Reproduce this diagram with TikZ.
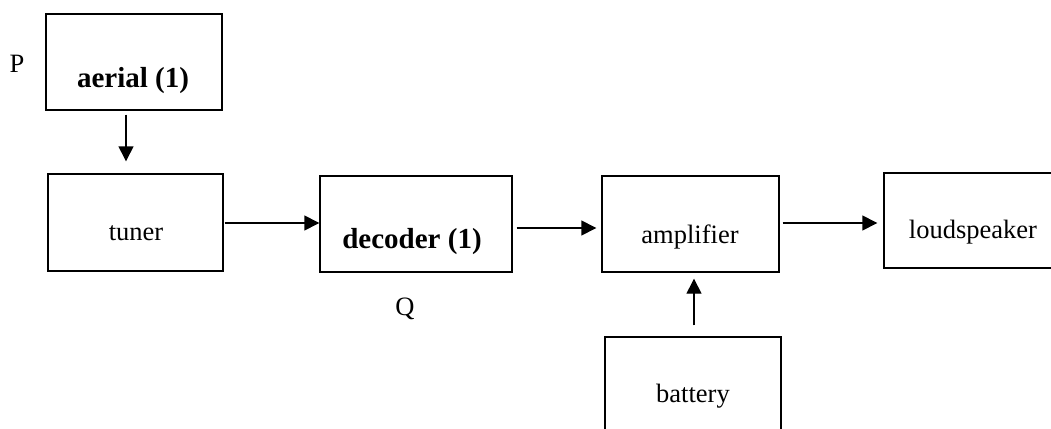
\documentclass[tikz,border=0pt]{standalone}
\usepackage{fontspec}
\setmainfont{Liberation Serif}
\usetikzlibrary{arrows.meta}
\tikzset{
  blk/.style={draw, line width=1.4pt, rectangle, inner sep=0pt},
  txt/.style={inner sep=0pt, anchor=base, font=\fontsize{26.5}{30}\selectfont},
  btxt/.style={inner sep=0pt, anchor=base, font=\fontsize{29}{33}\selectfont\bfseries},
  arr/.style={line width=1.4pt, -{Triangle[length=15pt,width=15pt]}}
}
\begin{document}
\begin{tikzpicture}[x=1pt,y=-1pt]
\useasboundingbox (0,0) rectangle (1051,428);
% boxes
\node[blk, minimum width=176pt, minimum height=96pt] (aerial) at (134,62) {};
\node[blk, minimum width=175pt, minimum height=97pt] (tuner) at (135.5,222.5) {};
\node[blk, minimum width=192pt, minimum height=96pt] (decoder) at (416,224) {};
\node[blk, minimum width=177pt, minimum height=96pt] (amp) at (690.5,224) {};
\node[blk, minimum width=176pt, minimum height=95pt] (loud) at (972,220.5) {};
\node[blk, minimum width=176pt, minimum height=96pt] (battery) at (693,385) {};
% texts
\node[txt] (p) at (17,72) {P};
\node[btxt] (aerialt) at (133,87) {aerial (1)};
\node[txt] (tunert) at (136,240) {tuner};
\node[btxt] (decodert) at (412,248) {decoder (1)};
\node[txt] (q) at (405,315) {Q};
\node[txt] (ampt) at (690,243) {amplifier};
\node[txt] (loudt) at (973,238) {loudspeaker};
\node[txt] (batteryt) at (693,402) {battery};
% connectors
\draw[arr, shorten <=4pt, shorten >=12pt] ([xshift=-8pt]aerial.south) -- ([xshift=-9.5pt]tuner.north);
\draw[arr, shorten <=1pt] ([yshift=-0.5pt]tuner.east) -- ([yshift=-0.5pt]tuner.east -| decoder.west);
\draw[arr, shorten <=4pt, shorten >=5pt] ([yshift=-4pt]decoder.east) -- ([yshift=-4pt]decoder.east -| amp.west);
\draw[arr, shorten <=3pt, shorten >=6pt] ([yshift=1pt]amp.east) -- ([yshift=1pt]amp.east -| loud.west);
\draw[arr, shorten <=11pt, shorten >=6pt] ([xshift=1pt]battery.north) -- ([xshift=1pt]battery.north |- amp.south);
\end{tikzpicture}
\end{document}
